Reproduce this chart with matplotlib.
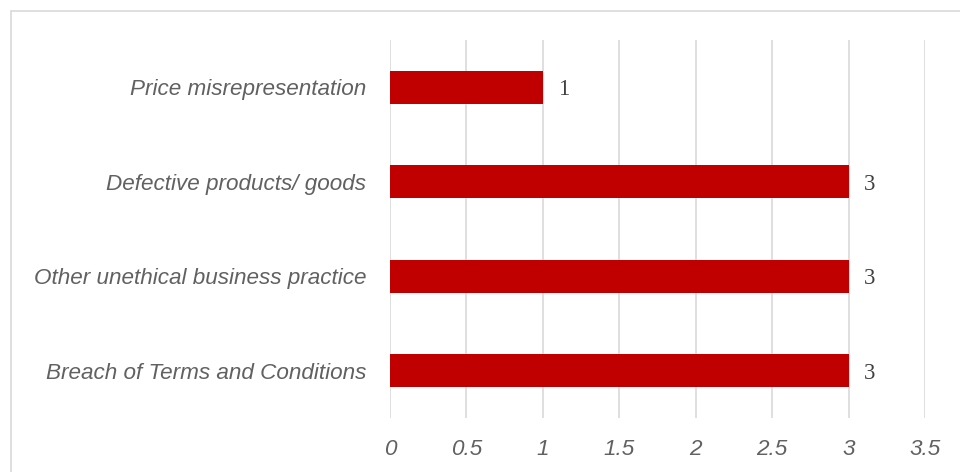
import matplotlib.pyplot as plt
from matplotlib.patches import Rectangle

# Datos del gráfico (de abajo hacia arriba)
categories = [
    "Breach of Terms and Conditions",
    "Other unethical business practice",
    "Defective products/ goods",
    "Price misrepresentation",
]
counts = [3, 3, 3, 1]
x_ticks = [0, 0.5, 1, 1.5, 2, 2.5, 3, 3.5]
x_tick_labels = ["0", "0.5", "1", "1.5", "2", "2.5", "3", "3.5"]

bar_color = "#C00000"
text_color = "#616161"
grid_color = "#D9D9D9"

fig = plt.figure(figsize=(9.6, 4.72), dpi=100)
ax = fig.add_axes([390 / 960, 1 - 418 / 472, 535 / 960, 378 / 472])

# Marco exterior del gráfico (recortado por el borde derecho e inferior)
fig.patches.append(
    Rectangle((11 / 960, -0.1), 1.2, 1 - 11 / 472 + 0.1, transform=fig.transFigure,
              fill=False, edgecolor=grid_color, linewidth=1.2, zorder=0)
)

y = range(len(categories))
ax.barh(y, counts, height=0.35, color=bar_color, zorder=3)

for yi, v in zip(y, counts):
    ax.text(v + 0.1, yi, str(v), va="center_baseline", ha="left",
            fontsize=16.5, family="Liberation Serif", color="#404040")

ax.set_xlim(0, 3.5)
ax.set_ylim(-0.5, len(categories) - 0.5)
ax.set_xticks(x_ticks)
ax.set_xticklabels(x_tick_labels)
ax.set_yticks(list(y))
ax.set_yticklabels(categories)

for lbl in ax.get_xticklabels() + ax.get_yticklabels():
    lbl.set_fontstyle("italic")
    lbl.set_fontsize(16.2)
    lbl.set_color(text_color)
    lbl.set_family("Liberation Sans")

ax.tick_params(axis="both", length=0)
ax.tick_params(axis="x", pad=15)
ax.tick_params(axis="y", pad=17)
ax.grid(axis="x", color=grid_color, linewidth=1.2, zorder=0)
for s in ax.spines.values():
    s.set_visible(False)

fig.savefig("out.png", dpi=100)
